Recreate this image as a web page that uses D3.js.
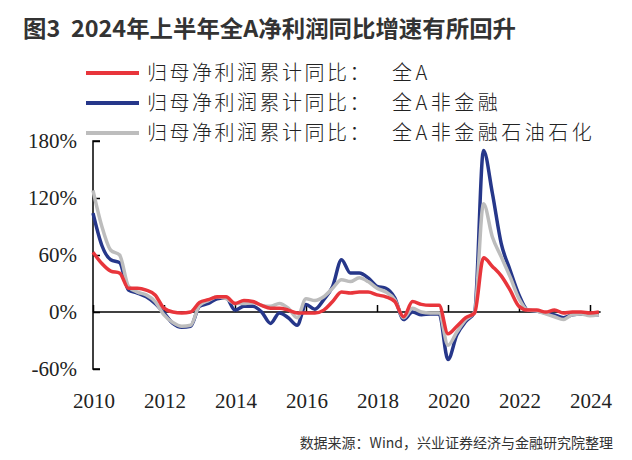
<!DOCTYPE html>
<html>
<head>
<meta charset="utf-8">
<script src="https://cdn.jsdelivr.net/npm/d3@7/dist/d3.min.js"></script>
<style>
  body { margin: 0; background: #fff; }
  svg { display: block; }
</style>
</head>
<body>
<svg id="chart" width="632" height="460"></svg>
<script>
// quarterly cumulative YoY, 2010Q1 .. 2024Q2
const startYear = 2010;
const quarterStep = 0.25;

const allA = [63, 51, 43, 41, 25, 25, 23, 18, 4, 0, -1, 0, 10, 13, 16, 16, 9, 12, 11, 7,
  4, 4, 2, -1, -1, -1, 2, 11, 21, 20, 21, 21, 18, 16, 11, -5, 11, 8, 7, 7,
  -23, -15, -6, -1, 57, 48, 38, 23, 6, 2, 2, 0, 2, -1, 0, 0, -1, 0];

const nonFin = [104, 70, 55, 52, 23, 20, 16, 9, -1, -12, -16, -15, 6, 9, 14, 15, 2, 6, 6, 0,
  -12, -1, -6, -14, 8, 3, 13, 27, 55, 41, 41, 36, 27, 25, 15, -8, 0, -3, -2, -2,
  -50, -24, -10, 0, 170, 125, 72, 44, 18, 2, 1, -1, -3, -6, -3, -2, -3, -3];

const nonFinOil = [128, 90, 65, 60, 27, 21, 18, 11, -3, -11, -15, -14, 7, 12, 16, 14, 9, 9, 10, 7,
  6, 9, 4, -6, 14, 12, 16, 25, 34, 32, 36, 32, 25, 21, 13, -6, 4, 0, -1, -1,
  -35, -21, -8, 0, 114, 79, 58, 37, 14, 2, 1, -2, -5, -8, -3, -2, -4, -3];

const legendPrefix = "归母净利润累计同比：";
const seriesNames = ["全A", "全A非金融", "全A非金融石油石化"];
const seriesColors = ["#e8353b", "#26378a", "#bdbdbd"];
const yTicks = [-60, 0, 60, 120, 180];
const xTicks = [2010, 2012, 2014, 2016, 2018, 2020, 2022, 2024];

const svg = d3.select("#chart");

const x = d3.scaleLinear().domain([2010, 2024]).range([93, 590]);
const y = d3.scaleLinear().domain([-60, 180]).range([369, 141]);

// title
svg.append("text")
  .attr("x", 23).attr("y", 37)
  .attr("font-family", "Noto Sans CJK SC")
  .attr("font-weight", "bold")
  .attr("font-size", 23)
  .attr("fill", "#333")
  .attr("textLength", 493)
  .attr("lengthAdjust", "spacingAndGlyphs")
  .style("white-space", "pre")
  .text("图3  2024年上半年全A净利润同比增速有所回升");

// legend
const legend = svg.append("g");
seriesNames.forEach((name, i) => {
  const ly = 73 + i * 30;
  legend.append("line")
    .attr("x1", 86).attr("x2", 139)
    .attr("y1", ly).attr("y2", ly)
    .attr("stroke", seriesColors[i])
    .attr("stroke-width", 4);
  legend.append("text")
    .attr("x", 147).attr("y", ly + 7)
    .attr("font-family", "Noto Sans CJK SC")
    .attr("font-weight", 300)
    .attr("font-size", 20)
    .attr("letter-spacing", 2.5)
    .attr("fill", "#222")
    .text(legendPrefix);
  legend.append("text")
    .attr("x", 392).attr("y", ly + 7)
    .attr("font-family", "Noto Sans CJK SC")
    .attr("font-weight", 300)
    .attr("font-size", 20)
    .attr("letter-spacing", 3.5)
    .attr("fill", "#222")
    .text(name);
});

// axes
const yAxis = svg.append("g")
  .attr("transform", `translate(${x(2010)},0)`)
  .call(d3.axisRight(y).tickValues(yTicks).tickSize(7).tickFormat(""));
yAxis.select(".domain").attr("d", `M7,${y(180)}H0V${y(-60)}H7`);
yAxis.selectAll("path, line").attr("stroke", "#000").attr("stroke-width", 1.5);

svg.selectAll(".ylab")
  .data(yTicks)
  .enter().append("text")
  .attr("class", "ylab")
  .attr("x", 77).attr("y", d => y(d) + 7)
  .attr("text-anchor", "end")
  .attr("font-family", "Liberation Serif")
  .attr("font-size", 21)
  .attr("fill", "#222")
  .text(d => d + "%");

const xAxis = svg.append("g")
  .attr("transform", `translate(0,${y(0)})`)
  .call(d3.axisTop(x).tickValues(xTicks).tickSize(7).tickSizeOuter(0).tickFormat(""));
xAxis.select(".domain").attr("d", `M${x(2010)},0H${x(2024.3)}`);
xAxis.selectAll("path, line").attr("stroke", "#000").attr("stroke-width", 1.5);

svg.selectAll(".xlab")
  .data(xTicks)
  .enter().append("text")
  .attr("class", "xlab")
  .attr("x", d => x(d) + 1).attr("y", 408)
  .attr("text-anchor", "middle")
  .attr("font-family", "Liberation Serif")
  .attr("font-size", 21)
  .attr("fill", "#222")
  .text(d => d);

// lines: blue, gray, then red on top
const line = d3.line()
  .x((d, i) => x(startYear + i * quarterStep))
  .y(d => y(d))
  .curve(d3.curveMonotoneX);

[[nonFin, 1], [nonFinOil, 2], [allA, 0]].forEach(([vals, ci]) => {
  svg.append("path")
    .datum(vals)
    .attr("d", line)
    .attr("fill", "none")
    .attr("stroke", seriesColors[ci])
    .attr("stroke-width", 3.5)
    .attr("stroke-linejoin", "round");
});

// source
svg.append("text")
  .attr("x", 613).attr("y", 448)
  .attr("text-anchor", "end")
  .attr("font-family", "Noto Sans CJK SC")
  .attr("font-size", 14)
  .attr("fill", "#333")
  .text("数据来源：Wind，兴业证券经济与金融研究院整理");
</script>
</body>
</html>
